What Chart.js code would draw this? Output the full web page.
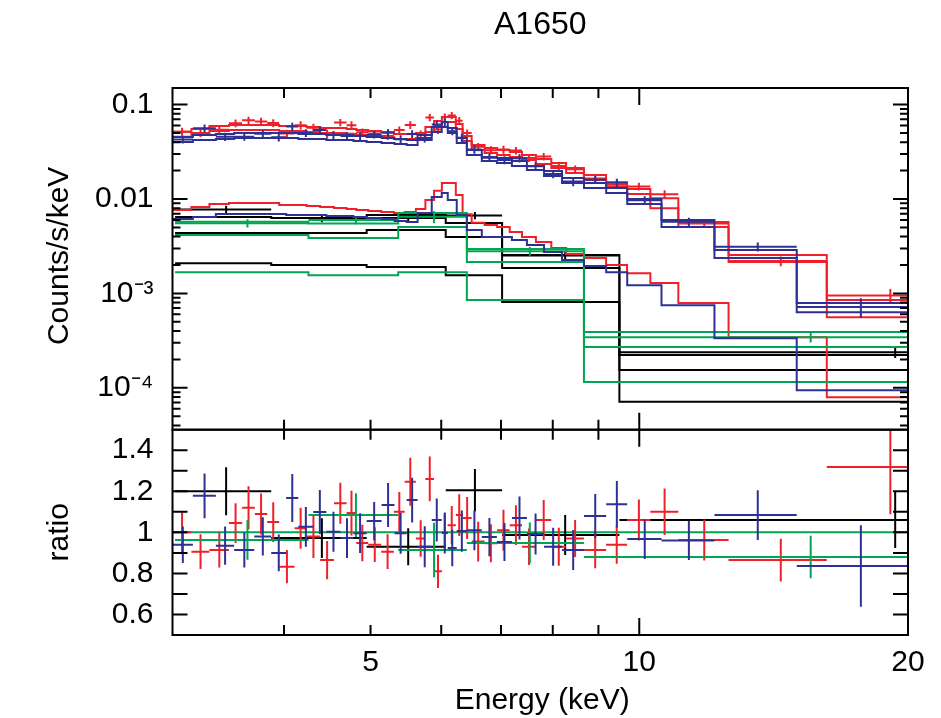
<!DOCTYPE html>
<html><head><meta charset="utf-8">
<script src="https://cdn.jsdelivr.net/npm/chart.js@4.4.1/dist/chart.umd.min.js"></script>
<style>html,body{margin:0;padding:0;background:#fff;}#wrap{width:941px;height:718px;position:relative;}</style>
</head><body><div id="wrap"><canvas id="c" width="941" height="718"></canvas></div>
<script>
const FONT = '"Liberation Sans", Arial, Helvetica, sans-serif';
const titleText = 'A1650';
const xTitle = 'Energy (keV)';
const yTitle = 'Counts/s/keV';
const ratioTitle = 'ratio';

// axis ticks / labels
const xTickLabels = [5, 10, 20];
const xMinorTicks = [4, 5, 6, 7, 8, 9];
const xMajorTicks = [10];
const yDecadeLabels = ['10⁻⁴', '10⁻³', '0.01', '0.1'];
const yDecades = [1e-4, 1e-3, 1e-2, 1e-1];
const ratioTickLabels = [0.6, 0.8, 1, 1.2, 1.4];
const ratioTicks = [0.6, 0.7, 0.8, 0.9, 1.0, 1.1, 1.2, 1.3, 1.4];

// ---------- red spectrum ----------
const redEdges = [3.0, 3.15, 3.3, 3.47, 3.59, 3.71, 3.83, 3.95, 4.11, 4.24, 4.39, 4.55, 4.7, 4.82, 4.97, 5.14, 5.31, 5.46, 5.62, 5.76, 5.89, 6.01, 6.1, 6.23, 6.34, 6.49, 6.71, 6.93, 7.16, 7.39, 7.66, 7.97, 8.28, 8.67, 9.18, 9.69, 10.29, 11.06, 12.59, 16.22, 22.0];
const redData = [0.0517, 0.0501, 0.0543, 0.0636, 0.0682, 0.0663, 0.0639, 0.0495, 0.0606, 0.0568, 0.049, 0.0646, 0.0605, 0.0511, 0.0494, 0.0465, 0.0538, 0.0609, 0.0486, 0.0731, 0.0544, 0.0741, 0.0767, 0.0676, 0.0499, 0.0357, 0.0329, 0.0334, 0.0326, 0.0272, 0.0282, 0.0224, 0.0207, 0.0165, 0.0142, 0.0136, 0.0112, 0.0055, 0.0022, 0.00095];
const redRatio = [1.0, 0.906, 0.914, 1.045, 1.12, 1.089, 1.05, 0.833, 1.02, 0.98, 0.865, 1.142, 1.094, 0.948, 0.94, 0.906, 1.1, 1.246, 0.97, 1.26, 0.81, 1.0, 1.035, 1.084, 1.07, 0.955, 0.947, 1.01, 1.035, 0.93, 1.06, 0.93, 0.97, 0.914, 0.94, 1.06, 1.1, 0.963, 0.865, 1.318];
const redRatioErr = [0.097, 0.085, 0.085, 0.097, 0.105, 0.10, 0.097, 0.081, 0.10, 0.105, 0.093, 0.10, 0.109, 0.089, 0.085, 0.085, 0.097, 0.117, 0.089, 0.109, 0.081, 0.09, 0.093, 0.102, 0.102, 0.097, 0.093, 0.10, 0.097, 0.089, 0.097, 0.093, 0.09, 0.089, 0.093, 0.10, 0.113, 0.10, 0.104, 0.23];
const redTotal = [0.0517, 0.0553, 0.0594, 0.0609, 0.0609, 0.0609, 0.0609, 0.0594, 0.0594, 0.058, 0.0566, 0.0566, 0.0553, 0.0539, 0.0526, 0.0513, 0.0489, 0.0489, 0.0501, 0.058, 0.0672, 0.0741, 0.0741, 0.0624, 0.0466, 0.0374, 0.0347, 0.0331, 0.0315, 0.0293, 0.0266, 0.0241, 0.0213, 0.018, 0.0151, 0.0128, 0.0102, 0.0057, 0.00255, 0.00085];
const redComp1 = [0.0458, 0.049, 0.0526, 0.054, 0.054, 0.054, 0.054, 0.0526, 0.0526, 0.0513, 0.050, 0.050, 0.049, 0.0477, 0.0466, 0.0455, 0.0433, 0.0433, 0.0444, 0.0513, 0.0595, 0.0656, 0.0656, 0.0552, 0.0412, 0.0331, 0.0307, 0.0293, 0.0279, 0.0259, 0.0235, 0.0213, 0.0189, 0.0159, 0.0134, 0.0113, 0.0080, 0.00505, 0.00215, 0.00056];
const redComp2 = [0.00764, 0.00823, 0.00885, 0.00907, 0.00907, 0.00907, 0.00907, 0.00864, 0.00864, 0.00843, 0.00823, 0.00803, 0.00783, 0.00764, 0.00746, 0.00728, 0.00711, 0.00728, 0.00783, 0.00976, 0.0122, 0.0148, 0.0148, 0.011, 0.0069, 0.0056, 0.0053, 0.00505, 0.00447, 0.00395, 0.0035, 0.00302, 0.00261, 0.00237, 0.002, 0.00164, 0.00129, 0.00079, 0.000344, 0.0000795];

// ---------- blue spectrum ----------
const blueEdges = [3.0, 3.162, 3.355, 3.517, 3.704, 3.87, 4.022, 4.15, 4.313, 4.461, 4.627, 4.784, 4.95, 5.144, 5.319, 5.488, 5.645, 5.855, 6.008, 6.102, 6.245, 6.41, 6.662, 6.926, 7.2, 7.484, 7.822, 8.194, 8.671, 9.182, 9.694, 10.59, 12.14, 15.01, 20.41];
const blueData = [0.0427, 0.0562, 0.0457, 0.0458, 0.0491, 0.0451, 0.0585, 0.0502, 0.0537, 0.0478, 0.0464, 0.0464, 0.048, 0.0503, 0.0431, 0.0488, 0.0444, 0.0615, 0.0653, 0.0523, 0.0447, 0.0334, 0.0273, 0.0259, 0.0271, 0.0222, 0.0184, 0.0153, 0.016, 0.0149, 0.0097, 0.00575, 0.00312, 0.00072];
const blueRatio = [0.94, 1.178, 0.935, 0.914, 0.98, 0.9, 1.167, 1.027, 1.099, 1.003, 0.972, 0.996, 1.055, 1.133, 0.996, 1.157, 0.93, 1.06, 0.997, 0.924, 1.006, 1.01, 0.977, 0.953, 1.07, 0.992, 0.93, 0.914, 1.08, 1.137, 0.967, 0.96, 1.084, 0.836];
const blueRatioErr = [0.089, 0.109, 0.093, 0.085, 0.093, 0.089, 0.117, 0.097, 0.107, 0.097, 0.097, 0.097, 0.093, 0.107, 0.10, 0.109, 0.10, 0.105, 0.10, 0.089, 0.10, 0.097, 0.093, 0.093, 0.105, 0.10, 0.093, 0.097, 0.107, 0.113, 0.097, 0.095, 0.121, 0.198];
const blueTotal = [0.04545, 0.0477, 0.0489, 0.0501, 0.0501, 0.0501, 0.0501, 0.0489, 0.0489, 0.0477, 0.0477, 0.0466, 0.04545, 0.0444, 0.0433, 0.0422, 0.0477, 0.058, 0.0655, 0.0566, 0.0444, 0.0331, 0.0279, 0.0272, 0.0253, 0.0224, 0.0198, 0.0167, 0.0148, 0.0131, 0.01, 0.00599, 0.00288, 0.00079];
const blueComp1 = [0.0402, 0.0422, 0.0433, 0.0444, 0.0444, 0.0444, 0.0444, 0.0433, 0.0433, 0.0422, 0.0422, 0.0412, 0.0402, 0.0393, 0.0383, 0.0374, 0.0422, 0.0513, 0.058, 0.0501, 0.0393, 0.0293, 0.0253, 0.0241, 0.0224, 0.0203, 0.0175, 0.0148, 0.0131, 0.0116, 0.00885, 0.00505, 0.00237, 0.00063];
const blueComp2 = [0.00614, 0.00644, 0.00693, 0.00693, 0.00693, 0.00693, 0.00677, 0.00677, 0.00677, 0.0066, 0.0066, 0.00644, 0.00629, 0.00614, 0.00584, 0.0057, 0.00711, 0.0105, 0.0116, 0.00976, 0.00677, 0.00469, 0.00395, 0.00395, 0.00367, 0.00325, 0.00274, 0.00226, 0.00195, 0.00168, 0.00122, 0.00075, 0.000336, 0.0000943];

// ---------- black spectrum ----------
const blackEdges = [3.02, 3.87, 4.95, 6.07, 7.02, 9.5, 29.2];
const blackData = [0.00775, 0.0063, 0.0063, 0.0067, 0.00252, 0.000238];
const blackRatio = [1.2, 0.972, 0.93, 1.205, 0.987, 1.06];
const blackRatioErr = [0.117, 0.097, 0.09, 0.104, 0.097, 0.136];
const blackTotal = [0.00644, 0.00629, 0.00677, 0.00557, 0.00255, 0.000222];
const blackComp1 = [0.00436, 0.00436, 0.00469, 0.00395, 0.00186, 0.000154];
const blackComp2 = [0.00209, 0.002, 0.0019, 0.00156, 0.00081, 0.000071];

// ---------- green spectrum ----------
const greenEdges = [3.02, 4.26, 5.37, 6.41, 8.67, 22.45];
const greenData = [0.00554, 0.00598, 0.00649, 0.0028, 0.000343];
const greenRatio = [0.963, 1.084, 0.914, 0.948, 0.88];
const greenRatioErr = [0.097, 0.107, 0.133, 0.10, 0.104];
const greenTotal = [0.00575, 0.00552, 0.0071, 0.00295, 0.00039];
const greenComp1 = [0.00415, 0.00386, 0.00505, 0.00215, 0.00027];
const greenComp2 = [0.00168, 0.00156, 0.00168, 0.00085, 0.000115];

// ratio reference line
const unityLine = [{x: 3, y: 1}, {x: 20, y: 1}];

const COL = {black: '#000000', red: '#f0202a', green: '#00a651', blue: '#2e3192'};
const Y_MIN = 3.6e-5, Y_MAX = 0.15, R_MIN = 0.5, R_MAX = 1.5;

function stepPoints(edges, vals) {
  const pts = vals.map((v, i) => ({x: edges[i], y: v}));
  pts.push({x: edges[vals.length], y: vals[vals.length - 1]});
  return pts;
}
function crossPoints(edges, vals, errs, lo, hi) {
  const clamp = y => Math.min(hi, Math.max(lo, y));
  const pts = [];
  vals.forEach((v, i) => {
    const a = edges[i], b = edges[i + 1], c = (a + b) / 2;
    pts.push({x: a, y: clamp(v)}, {x: b, y: clamp(v)}, {x: b, y: null});
    pts.push({x: c, y: clamp(v - errs[i])}, {x: c, y: clamp(v + errs[i])}, {x: c, y: null});
  });
  return pts;
}
function lineDS(data, color, axis, stepped, width) {
  return {data, borderColor: color, backgroundColor: color, borderWidth: width || 2,
    pointRadius: 0, pointHoverRadius: 0, fill: false, stepped: stepped ? 'before' : false,
    tension: 0, yAxisID: axis, xAxisID: 'x', spanGaps: false};
}

const groups = [
  ['black', blackEdges, blackData, blackRatio, blackRatioErr, [blackTotal, blackComp1, blackComp2]],
  ['red', redEdges, redData, redRatio, redRatioErr, [redTotal, redComp1, redComp2]],
  ['green', greenEdges, greenData, greenRatio, greenRatioErr, [greenTotal, greenComp1, greenComp2]],
  ['blue', blueEdges, blueData, blueRatio, blueRatioErr, [blueTotal, blueComp1, blueComp2]]
];

const drawList = [lineDS(unityLine, COL.green, 'y2', false)];
groups.forEach(([c, edges, data, ratio, rerr, models]) => {
  const upErr = data.map((v, i) => v * rerr[i] / ratio[i]);
  drawList.push(lineDS(crossPoints(edges, data, upErr, Y_MIN, Y_MAX), COL[c], 'y', false));
  models.forEach(m => drawList.push(lineDS(stepPoints(edges, m), COL[c], 'y', true)));
  drawList.push(lineDS(crossPoints(edges, ratio, rerr, R_MIN, R_MAX), COL[c], 'y2', false));
});
// Chart.js draws dataset 0 on top, so reverse to get later groups on top
const datasets = drawList.reverse();

const near = (a, b) => Math.abs(a - b) < 1e-6 * Math.max(1, Math.abs(b));

const decorPlugin = {
  id: 'decor',
  afterDraw(chart) {
    const ctx = chart.ctx;
    const xs = chart.scales.x, ys = chart.scales.y, yr = chart.scales.y2;
    const L = chart.chartArea.left, R = chart.chartArea.right;
    ctx.save();
    ctx.strokeStyle = '#000';
    ctx.lineWidth = 2;
    ctx.strokeRect(L, ys.top, R - L, ys.bottom - ys.top);
    ctx.strokeRect(L, yr.top, R - L, yr.bottom - yr.top);
    ctx.beginPath();
    const xt = (e, len) => {
      const px = xs.getPixelForValue(e);
      [[ys.top, 1], [ys.bottom, -1], [yr.top, 1], [yr.bottom, -1]].forEach(([y0, d]) => {
        ctx.moveTo(px, y0); ctx.lineTo(px, y0 + d * len);
      });
    };
    xMinorTicks.forEach(e => xt(e, 10));
    xMajorTicks.forEach(e => xt(e, 17));
    const yt = (py, len) => {
      ctx.moveTo(L, py); ctx.lineTo(L + len, py);
      ctx.moveTo(R, py); ctx.lineTo(R - len, py);
    };
    for (let n = -5; n <= -1; n++) {
      for (let k = 1; k <= 9; k++) {
        const v = k * Math.pow(10, n);
        if (v < Y_MIN || v > Y_MAX) continue;
        yt(ys.getPixelForValue(v), k === 1 ? 15 : 8);
      }
    }
    ratioTicks.forEach(r => yt(yr.getPixelForValue(r), 15));
    ctx.stroke();

    ctx.fillStyle = '#000';
    ctx.textAlign = 'center';
    ctx.textBaseline = 'alphabetic';
    ctx.font = '32px ' + FONT;
    ctx.fillText(titleText, (L + R) / 2, 34);
    ctx.font = '30px ' + FONT;
    ctx.fillText(xTitle, (L + R) / 2 + 2, 709);
    ctx.save();
    ctx.translate(68, (ys.top + ys.bottom) / 2 - 3);
    ctx.rotate(-Math.PI / 2);
    ctx.fillText(yTitle, 0, 0);
    ctx.restore();
    ctx.save();
    ctx.translate(68, (yr.top + yr.bottom) / 2);
    ctx.rotate(-Math.PI / 2);
    ctx.fillText(ratioTitle, 0, 0);
    ctx.restore();
    ctx.restore();
  }
};

const tickFont = {family: FONT, size: 30};
new Chart(document.getElementById('c'), {
  type: 'line',
  data: {datasets},
  plugins: [decorPlugin],
  options: {
    responsive: false,
    animation: false,
    devicePixelRatio: 1,
    events: [],
    layout: {padding: {top: 88, right: 33, left: 0, bottom: 0}},
    plugins: {legend: {display: false}, tooltip: {enabled: false}, title: {display: false}},
    scales: {
      x: {
        type: 'logarithmic', min: 3, max: 20, position: 'bottom',
        grid: {display: false, drawTicks: false}, border: {display: false},
        afterFit: s => { s.height = 83; },
        ticks: {autoSkip: false, maxRotation: 0, minRotation: 0, padding: 10, color: '#000', font: tickFont,
          callback: v => xTickLabels.some(t => near(v, t)) ? String(Math.round(v)) : ''}
      },
      y: {
        type: 'logarithmic', min: Y_MIN, max: Y_MAX, position: 'left', stack: 'panels', stackWeight: 341.7, weight: 2,
        grid: {display: false, drawTicks: false}, border: {display: false},
        afterFit: s => { s.width = 172.5; },
        ticks: {autoSkip: false, padding: 19, color: '#000', font: tickFont,
          callback: v => { const i = yDecades.findIndex(d => near(v, d)); return i >= 0 ? yDecadeLabels[i] : ''; }}
      },
      y2: {
        type: 'linear', min: R_MIN, max: R_MAX, position: 'left', stack: 'panels', stackWeight: 205.3, weight: 1,
        grid: {display: false, drawTicks: false}, border: {display: false},
        afterFit: s => { s.width = 172.5; },
        ticks: {autoSkip: false, stepSize: 0.1, maxTicksLimit: 20, padding: 19, color: '#000', font: tickFont,
          callback: v => { const r = Math.round(v * 10) / 10; return ratioTickLabels.some(t => near(r, t)) ? String(r) : ''; }}
      }
    }
  }
});
</script></body></html>
